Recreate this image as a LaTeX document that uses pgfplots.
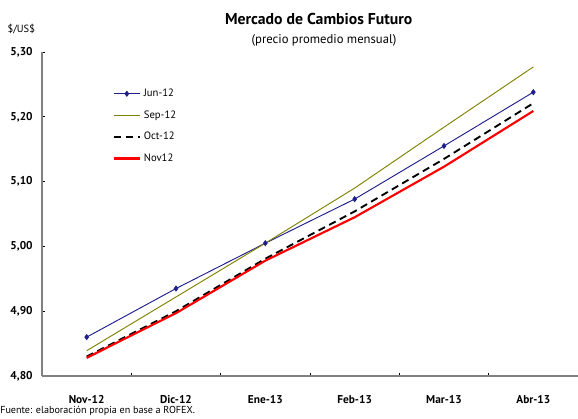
\documentclass[border=0pt]{standalone}
\usepackage{fontspec}
\setmainfont{PT Sans}
\usepackage{pgfplots}
\pgfplotsset{compat=1.18}
\definecolor{junc}{RGB}{30,30,140}
\definecolor{sepc}{RGB}{128,128,0}
\definecolor{axc}{RGB}{128,128,128}
\begin{document}
\begin{tikzpicture}
\begin{axis}[
  at={(31.5pt,31.5pt)}, anchor=south west,
  scale only axis, width=402pt, height=243pt,
  xmin=-0.5, xmax=5.5, ymin=4.8, ymax=5.3,
  axis lines*=left,
  axis line style={draw=axc, line width=1pt},
  tick align=inside,
  major tick length=2.2pt,
  tick style={black, line width=0.6pt},
  ytick={4.8,4.9,5.0,5.1,5.2,5.3},
  yticklabel style={font=\bfseries\fontsize{8.5}{9}\selectfont, xshift=-3.5pt,
    /pgf/number format/.cd, use comma, fixed, fixed zerofill, precision=2, assume math mode=true},
  xtick={-0.5,0.5,1.5,2.5,3.5,4.5},
  xticklabels={},
  extra x ticks={0,1,2,3,4,5},
  extra x tick labels={Nov-12,Dic-12,Ene-13,Feb-13,Mar-13,Abr-13},
  extra x tick style={major tick length=0pt},
  xticklabel style={font=\bfseries\fontsize{8.5}{9}\selectfont, yshift=-11pt},
  legend style={at={(0.131,0.895)}, anchor=north west, draw=none, fill=none,
    font=\fontsize{8}{9}\selectfont, row sep=5pt, inner sep=0pt},
  legend cell align=left,
  legend image code/.code={\draw[mark repeat=2,mark phase=2] plot coordinates {(0cm,0cm)(0.35cm,0cm)(0.7cm,0cm)};},
]
\addplot[junc, line width=0.7pt, mark=diamond*, mark size=1.8pt, mark options={solid, fill=junc}] coordinates {
 (0,4.860) (1,4.935) (2,5.005) (3,5.073) (4,5.155) (5,5.238)};
\addlegendentry{Jun-12}
\addplot[sepc, line width=0.7pt] coordinates {
 (0,4.839) (1,4.922) (2,5.005) (3,5.090) (4,5.184) (5,5.277)};
\addlegendentry{Sep-12}
\addplot[black, line width=1.4pt, dash pattern=on 5.5pt off 3.5pt] coordinates {
 (0,4.830) (1,4.900) (2,4.981) (3,5.054) (4,5.135) (5,5.221)};
\addlegendentry{Oct-12}
\addplot[red, line width=1.6pt] coordinates {
 (0,4.828) (1,4.897) (2,4.978) (3,5.045) (4,5.123) (5,5.209)};
\addlegendentry{Nov12}
\end{axis}
\node[font=\bfseries\fontsize{11.8}{13}\selectfont] at (239pt,299.5pt) {Mercado de Cambios Futuro};
\node[font=\fontsize{9.5}{11}\selectfont] at (243pt,283pt) {(precio promedio mensual)};
\node[font=\fontsize{7.8}{9}\selectfont, anchor=west, inner sep=0pt] at (5.5pt,291.5pt) {\$/US\$};
\node[font=\fontsize{7.6}{9}\selectfont, anchor=west, inner sep=0pt] at (0pt,5.5pt) {Fuente: elaboración propia en base a ROFEX.};
\pgfresetboundingbox
\useasboundingbox (0,0) rectangle (433.5pt,313.5pt);
\end{tikzpicture}
\end{document}
